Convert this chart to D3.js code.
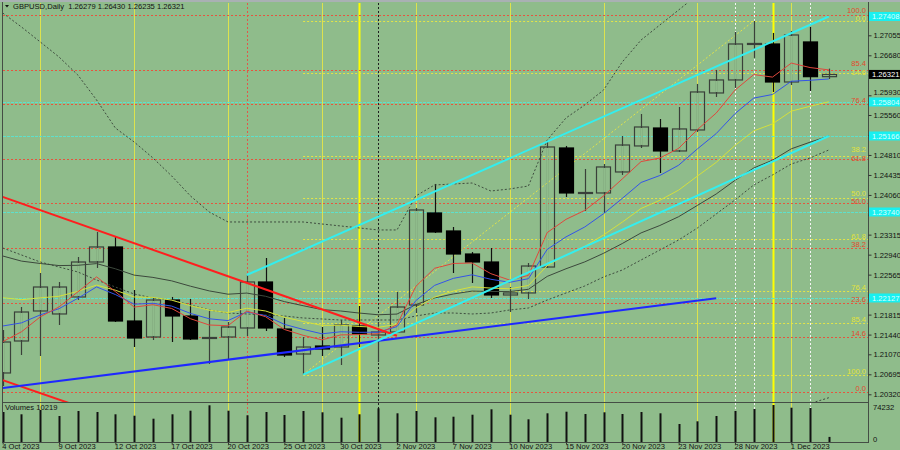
<!DOCTYPE html>
<html><head><meta charset="utf-8">
<script src="https://cdn.jsdelivr.net/npm/d3@7"></script>
<style>body{margin:0;background:#8fbc8b;}svg{display:block}text{font-family:"Liberation Sans",Arial,sans-serif;}</style>
</head><body><svg id="c" width="900" height="450"></svg>
<script>
const dates = ["4 Oct 2023","5 Oct 2023","6 Oct 2023","9 Oct 2023","10 Oct 2023","11 Oct 2023","12 Oct 2023","13 Oct 2023","16 Oct 2023","17 Oct 2023","18 Oct 2023","19 Oct 2023","20 Oct 2023","23 Oct 2023","24 Oct 2023","25 Oct 2023","26 Oct 2023","27 Oct 2023","30 Oct 2023","31 Oct 2023","1 Nov 2023","2 Nov 2023","3 Nov 2023","6 Nov 2023","7 Nov 2023","8 Nov 2023","9 Nov 2023","10 Nov 2023","13 Nov 2023","14 Nov 2023","15 Nov 2023","16 Nov 2023","17 Nov 2023","20 Nov 2023","21 Nov 2023","22 Nov 2023","23 Nov 2023","24 Nov 2023","27 Nov 2023","28 Nov 2023","29 Nov 2023","30 Nov 2023","1 Dec 2023","4 Dec 2023","5 Dec 2023"];
const open = [1.20720,1.21320,1.21883,1.21827,1.22146,1.22802,1.23084,1.21695,1.21395,1.22089,1.21789,1.21367,1.21395,1.21564,1.22427,1.21545,1.21076,1.21226,1.21207,1.21601,1.21433,1.21489,1.21995,1.23722,1.23384,1.22952,1.22802,1.22183,1.22221,1.22708,1.24941,1.24087,1.24097,1.24491,1.24979,1.25316,1.24885,1.25279,1.25973,1.26217,1.26883,1.26892,1.26179,1.26930,1.26279];
const high = [1.21526,1.21958,1.22596,1.22427,1.22896,1.23365,1.23290,1.22277,1.22146,1.22146,1.22108,1.21883,1.21677,1.22558,1.22877,1.21752,1.21395,1.21583,1.21714,1.21977,1.21677,1.22239,1.23815,1.24266,1.23459,1.22990,1.23065,1.22333,1.22783,1.25054,1.24979,1.24547,1.24641,1.25166,1.25579,1.25485,1.25710,1.26142,1.26405,1.27118,1.27325,1.27099,1.27136,1.27211,1.26430];
const low = [1.20476,1.21057,1.21039,1.21620,1.22089,1.22690,1.21676,1.21207,1.21339,1.21301,1.21339,1.20889,1.20964,1.21414,1.21508,1.21020,1.20690,1.21039,1.20870,1.21207,1.20926,1.21470,1.21845,1.23346,1.22596,1.22408,1.22127,1.21864,1.22108,1.22690,1.24022,1.23759,1.23722,1.24435,1.24941,1.24472,1.24866,1.25241,1.25898,1.26067,1.26630,1.25992,1.26123,1.26011,1.26235];
const close = [1.21301,1.21864,1.22333,1.22333,1.22802,1.23084,1.21695,1.21376,1.22089,1.21789,1.21358,1.21386,1.21583,1.22427,1.21564,1.21057,1.21207,1.21170,1.21620,1.21451,1.21489,1.21958,1.23778,1.23365,1.22952,1.22802,1.22183,1.22221,1.22727,1.24960,1.24097,1.24106,1.24585,1.24997,1.25335,1.24885,1.25298,1.25992,1.26217,1.26892,1.26902,1.26179,1.27061,1.26279,1.26321];
const volume = [60180,55570,64190,52160,62190,60180,55570,52760,46740,55570,62790,73620,62790,53560,60180,54160,62190,59580,48750,55570,67600,57570,62190,49550,50750,54760,65600,54760,45540,57570,60780,56170,59580,56170,60180,57570,36110,41520,52160,62190,66200,74232,68810,68200,10219];
const ma5 = [1.21307,1.21493,1.21772,1.21960,1.22241,1.22523,1.22247,1.21956,1.22001,1.21930,1.21738,1.21620,1.21607,1.21881,1.21776,1.21536,1.21427,1.21341,1.21434,1.21440,1.21457,1.21624,1.22343,1.22684,1.22774,1.22783,1.22583,1.22463,1.22551,1.23354,1.23602,1.23770,1.24042,1.24361,1.24686,1.24752,1.24934,1.25286,1.25596,1.26027,1.26318,1.26271,1.26534,1.26450,1.26406];
const ma8 = [1.21601,1.21660,1.21810,1.21926,1.22121,1.22335,1.22192,1.22011,1.22027,1.21975,1.21838,1.21737,1.21703,1.21864,1.21797,1.21632,1.21538,1.21455,1.21493,1.21483,1.21485,1.21590,1.22076,1.22363,1.22495,1.22562,1.22478,1.22421,1.22489,1.23039,1.23273,1.23459,1.23708,1.23996,1.24294,1.24425,1.24618,1.24924,1.25211,1.25585,1.25877,1.25945,1.26193,1.26211,1.26236];
const ma13 = [1.22132,1.22095,1.22129,1.22159,1.22251,1.22369,1.22273,1.22146,1.22138,1.22087,1.21982,1.21898,1.21853,1.21935,1.21883,1.21765,1.21686,1.21613,1.21615,1.21592,1.21577,1.21632,1.21937,1.22142,1.22258,1.22335,1.22313,1.22299,1.22361,1.22733,1.22928,1.23097,1.23309,1.23551,1.23806,1.23960,1.24151,1.24414,1.24671,1.24988,1.25262,1.25393,1.25632,1.25724,1.25808];
const ma21 = [1.22915,1.22819,1.22774,1.22735,1.22740,1.22772,1.22675,1.22556,1.22513,1.22448,1.22348,1.22260,1.22198,1.22219,1.22159,1.22059,1.21982,1.21909,1.21883,1.21844,1.21812,1.21825,1.22003,1.22127,1.22202,1.22256,1.22249,1.22247,1.22290,1.22532,1.22675,1.22804,1.22965,1.23149,1.23348,1.23487,1.23652,1.23864,1.24078,1.24333,1.24566,1.24712,1.24926,1.25050,1.25166];
const bbUpper = [1.27474,1.27211,1.26930,1.26648,1.26311,1.25842,1.25316,1.25054,1.24754,1.24416,1.24041,1.23740,1.23553,1.23553,1.23553,1.23553,1.23553,1.23515,1.23478,1.23440,1.23403,1.23403,1.24041,1.24247,1.24266,1.24284,1.24134,1.24172,1.24228,1.25091,1.25504,1.25748,1.26029,1.26555,1.26967,1.27249,1.27530,1.27812,1.28187,1.28562,1.28881,1.29125,1.29256,1.29331,1.29557];
const bbMiddle = [1.23065,1.22934,1.22802,1.22708,1.22615,1.22465,1.22333,1.22202,1.22127,1.22089,1.21995,1.21902,1.21845,1.21827,1.21808,1.21789,1.21752,1.21733,1.21714,1.21714,1.21714,1.21714,1.21789,1.21845,1.21845,1.21827,1.21845,1.21902,1.21939,1.22089,1.22221,1.22352,1.22521,1.22652,1.22840,1.23027,1.23215,1.23440,1.23703,1.23966,1.24247,1.24435,1.24641,1.24754,1.24904];
const bbLower = [null,null,null,null,null,null,null,null,null,null,null,null,null,null,null,null,null,null,null,null,null,null,null,null,null,null,null,null,null,null,null,null,null,null,null,null,null,null,null,null,1.19650,1.19838,1.20000,1.20147,1.20256];
const priceTicks = [1.20320,1.20695,1.21070,1.21440,1.21815,1.22190,1.22565,1.22940,1.23315,1.23690,1.24060,1.24435,1.24810,1.25185,1.25560,1.25930,1.26305,1.26680,1.27055,1.27430];
const redFibLevels = [0,14.6,23.6,38.2,50,61.8,76.4,85.4,100];
const yellowFibLevels = [0,14.6,38.2,50,61.8,76.4,85.4,100];
const redFib = {p0:1.20370, p100:1.27435, from:-1};
const yellowFib = {p0:1.27325, p100:1.20690, from:16};
const cyanLevels = [1.25804,1.25166,1.23740,1.22127];
const cyanTags = [1.27408,1.25804,1.25166,1.23740,1.22127];
const redTrend = [[-1,1.24147],[21,1.21418]];
const redTrend2 = [[-1,1.20706],[4,1.20099]];
const blueTrend = [[-1,1.20395],[38,1.22121]];
const cyanUpper = [[13,1.22558],[44,1.27408]];
const cyanLower = [[16,1.20690],[44,1.25166]];
const fibDiag = [[16,1.20690],[40,1.27325]];
const fridayIdx = [2,7,12,17,22,27,32,37,42];
const monthEndIdx = [19,41];
const redVIdx = [13], blackVIdx = [20], whiteVIdx = [39,40,43];
const title = "GBPUSD,Daily  1.26279 1.26430 1.26235 1.26321";
const lastPrice = 1.26321, lastVolume = 10219, maxVolume = 74232;

const svg = d3.select("#c");
const W = 900, AX = 868, TOP = 3, MB = 402, VB = 442;
const x = d3.scaleLinear().domain([-0.1438, 46.085]).range([0, 868]);
const y = d3.scaleLinear().domain([1.20320, 1.27055]).range([394.3, 35.3]);
const yv = d3.scaleLinear().domain([0, maxVolume]).range([VB, 405]);
const FS = 7.6;
const BG = "#8fbc8b";

svg.append("rect").attr("width",W).attr("height",450).attr("fill",BG);
svg.append("rect").attr("width",W).attr("height",2).attr("fill","#a9b1b3");
const defs = svg.append("defs");
defs.append("clipPath").attr("id","cm").append("rect").attr("x",3).attr("y",TOP).attr("width",AX-3).attr("height",MB-TOP);
defs.append("clipPath").attr("id","cv").append("rect").attr("x",3).attr("y",MB+1).attr("width",AX-3).attr("height",VB-MB-1);
defs.append("clipPath").attr("id","call").append("rect").attr("x",3).attr("y",TOP).attr("width",AX-3).attr("height",VB-TOP);

const gAll = svg.append("g").attr("clip-path","url(#call)");
const gm = svg.append("g").attr("clip-path","url(#cm)");
const gv = svg.append("g").attr("clip-path","url(#cv)");

function vlines(idx, color, w, dash){
  gAll.selectAll(null).data(idx).enter().append("line")
    .attr("x1",d=>Math.round(x(d))+0.5).attr("x2",d=>Math.round(x(d))+0.5)
    .attr("y1",TOP).attr("y2",VB).attr("stroke",color).attr("stroke-width",w)
    .attr("stroke-dasharray",dash||null);
}
vlines(fridayIdx,"#dde24e",1);
vlines(monthEndIdx,"#ffff00",2);
vlines(redVIdx,"#e0584a",1,"2,2");
vlines(blackVIdx,"#1e1e1e",1,"2,2");
vlines(whiteVIdx,"#f4f4f4",1,"2,2");

gm.selectAll(null).data(cyanLevels).enter().append("line")
  .attr("x1",3).attr("x2",AX).attr("y1",d=>Math.round(y(d))+0.5).attr("y2",d=>Math.round(y(d))+0.5)
  .attr("stroke","#5ee0cc").attr("stroke-width",1).attr("stroke-dasharray","3,1");

function fib(f, levels, color){
  const lv = levels.map(L=>({L, p: f.p0 + (f.p100-f.p0)*L/100, color}));
  gm.selectAll(null).data(lv).enter().append("line")
    .attr("x1",Math.max(3,x(f.from))).attr("x2",AX)
    .attr("y1",d=>Math.round(y(d.p))+0.5).attr("y2",d=>Math.round(y(d.p))+0.5)
    .attr("stroke",color).attr("stroke-width",1).attr("stroke-dasharray","2,2");
  return lv;
}
const redLv = fib(redFib, redFibLevels, "#e6553e");
const yelLv = fib(yellowFib, yellowFibLevels, "#e4e448");

const line = d3.line().defined(d=>d[1]!=null).x(d=>x(d[0])).y(d=>y(d[1]));
gm.append("path").attr("d",line(fibDiag)).attr("fill","none").attr("stroke","#e4e448").attr("stroke-width",1).attr("stroke-dasharray","2,2");

// candles
const bars = d3.range(dates.length).map(i=>({i,o:open[i],h:high[i],l:low[i],c:close[i]}));
const bw = (x(1)-x(0))*0.76;
const cg = gm.append("g");
cg.selectAll(".wick").data(bars).enter().append("line")
  .attr("x1",d=>Math.round(x(d.i))+0.5).attr("x2",d=>Math.round(x(d.i))+0.5)
  .attr("y1",d=>y(d.h)).attr("y2",d=>y(d.l)).attr("stroke",d=>d.c<d.o?"#111":"#3a403a").attr("stroke-width",1.2);
cg.selectAll(".body").data(bars).enter().append("rect")
  .attr("x",d=>Math.round(x(d.i)-bw/2)+0.5).attr("width",Math.round(bw))
  .attr("y",d=>y(Math.max(d.o,d.c))).attr("height",d=>Math.max(1,Math.abs(y(d.o)-y(d.c))))
  .attr("fill",d=>d.c<d.o?"#000":"none").attr("stroke",d=>d.c<d.o?"#000":"#3a403a").attr("stroke-width",1.2);
cg.selectAll(".inner").data(bars.filter(d=>d.c>=d.o && Math.abs(y(d.o)-y(d.c))>3)).enter().append("line")
  .attr("x1",d=>Math.round(x(d.i))+0.5).attr("x2",d=>Math.round(x(d.i))+0.5)
  .attr("y1",d=>y(d.c)+1).attr("y2",d=>y(d.o)-1).attr("stroke",BG).attr("stroke-width",1.4);

// indicators
function series(arr){ return arr.map((v,i)=>[i,v]); }
const ind = [
  [bbUpper,"#3f4d3f",1,"2,2"],[bbMiddle,"#3f4d3f",1,"2,2"],[bbLower,"#3f4d3f",1,"2,2"],
  [ma21,"#3c483c",1,null],[ma13,"#d4e03c",1,null],[ma8,"#3454e8",1,null],[ma5,"#e0473c",1,null]
];
ind.forEach(([arr,col,w,dash])=>{
  gm.append("path").attr("d",line(series(arr))).attr("fill","none").attr("stroke",col)
    .attr("stroke-width",w).attr("stroke-dasharray",dash);
});

[[redTrend,"#ff1e1e"],[redTrend2,"#ff1e1e"],[blueTrend,"#1e28ff"],[cyanUpper,"#33eeee"],[cyanLower,"#33eeee"]].forEach(([pts,col])=>{
  gm.append("path").attr("d",line(pts)).attr("fill","none").attr("stroke",col).attr("stroke-width",2);
});

// fib labels with simple collision relaxation
const labs = redLv.concat(yelLv).map(d=>({...d, ty:y(d.p)-0.8}));
labs.sort((a,b)=>a.ty-b.ty);
const GAP = 8.4;
for (let it=0; it<40; it++){
  for (let k=0; k<labs.length-1; k++){
    const dd = labs[k+1].ty - labs[k].ty;
    if (dd < GAP){ const s=(GAP-dd)/2; labs[k].ty-=s; labs[k+1].ty+=s; }
  }
}
svg.selectAll(null).data(labs).enter().append("text")
  .attr("x",866).attr("y",d=>d.ty).attr("text-anchor","end")
  .attr("font-size",FS).attr("fill",d=>d.color==="#e6553e"?"#e24a2e":"#e2e23a").text(d=>d.L.toFixed(1));

// volume
gv.selectAll(null).data(volume).enter().append("line")
  .attr("x1",(d,i)=>Math.round(x(i))+0.5).attr("x2",(d,i)=>Math.round(x(i))+0.5)
  .attr("y1",VB).attr("y2",d=>yv(d)).attr("stroke","#111").attr("stroke-width",2);

// frames
const fr = svg.append("g").attr("stroke","#454d45").attr("stroke-width",1);
fr.append("line").attr("x1",2.5).attr("x2",2.5).attr("y1",2).attr("y2",VB+1);
fr.append("line").attr("x1",AX+0.5).attr("x2",AX+0.5).attr("y1",2).attr("y2",VB+1);
fr.append("line").attr("x1",2.5).attr("x2",AX+0.5).attr("y1",MB+0.5).attr("y2",MB+0.5);
fr.append("line").attr("x1",2.5).attr("x2",AX+0.5).attr("y1",VB+0.5).attr("y2",VB+0.5);

// price axis (labels hidden where a tag covers them, nudged where a tag is close)
const tagYs = cyanTags.concat([lastPrice]).map(v=>y(v));
const pa = svg.append("g").attr("transform",`translate(${AX+0.5},0)`)
  .call(d3.axisRight(y).tickValues(priceTicks).tickFormat(d3.format(".5f")).tickSize(3).tickPadding(2));
pa.select(".domain").remove();
pa.selectAll("line").attr("stroke","#333");
pa.selectAll("text").attr("font-size",FS).attr("fill","#111").attr("font-family","Liberation Sans, Arial")
  .attr("display",d=>tagYs.some(t=>Math.abs(t-y(d))<5)?"none":null)
  .attr("transform",d=>{
    const near = tagYs.find(t=>Math.abs(t-y(d))>=5 && Math.abs(t-y(d))<9.5);
    if (near===undefined) return null;
    const dir = y(d) < near ? -1 : 1;
    return `translate(0,${dir*(9.5-Math.abs(near-y(d)))})`;
  });

// date axis
const da = svg.append("g").attr("transform",`translate(0,${VB+0.5})`)
  .call(d3.axisBottom(x).tickValues(d3.range(0,dates.length,3)).tickFormat(i=>dates[i]).tickSize(2).tickPadding(0));
da.select(".domain").remove();
da.selectAll("line").attr("stroke","#333");
da.selectAll("text").attr("font-size",FS).attr("fill","#111").attr("text-anchor","start")
  .attr("dx",-1).attr("dy",0).attr("y",6.8).attr("font-family","Liberation Sans, Arial");

// cyan tags
const tg = svg.selectAll(null).data(cyanTags).enter().append("g");
tg.append("rect").attr("x",AX+1).attr("y",d=>y(d)-4.5).attr("width",W-AX-1).attr("height",9).attr("fill","#18f0f0");
tg.append("text").attr("x",AX+4).attr("y",d=>y(d)+2.7).attr("font-size",FS).attr("fill","#d8ffff").text(d=>d.toFixed(5));

svg.append("rect").attr("x",AX+1).attr("y",y(lastPrice)-4.5).attr("width",W-AX-1).attr("height",9).attr("fill","#000");
svg.append("text").attr("x",AX+4).attr("y",y(lastPrice)+2.7).attr("font-size",FS).attr("fill","#fff").text(lastPrice.toFixed(5));

svg.append("text").attr("x",AX+5).attr("y",yv(maxVolume)+4.5).attr("font-size",FS).attr("fill","#111").text(String(maxVolume));
svg.append("text").attr("x",AX+5).attr("y",VB-0.5).attr("font-size",FS).attr("fill","#111").text("0");
svg.append("text").attr("x",5).attr("y",410).attr("font-size",FS).attr("fill","#111").text("Volumes " + lastVolume);

svg.append("path").attr("d","M5,5 L9,5 L7,7.5 Z").attr("fill","#111");
svg.append("text").attr("x",13).attr("y",9).attr("font-size",FS).attr("fill","#111").style("white-space","pre").text(title);
</script></body></html>
